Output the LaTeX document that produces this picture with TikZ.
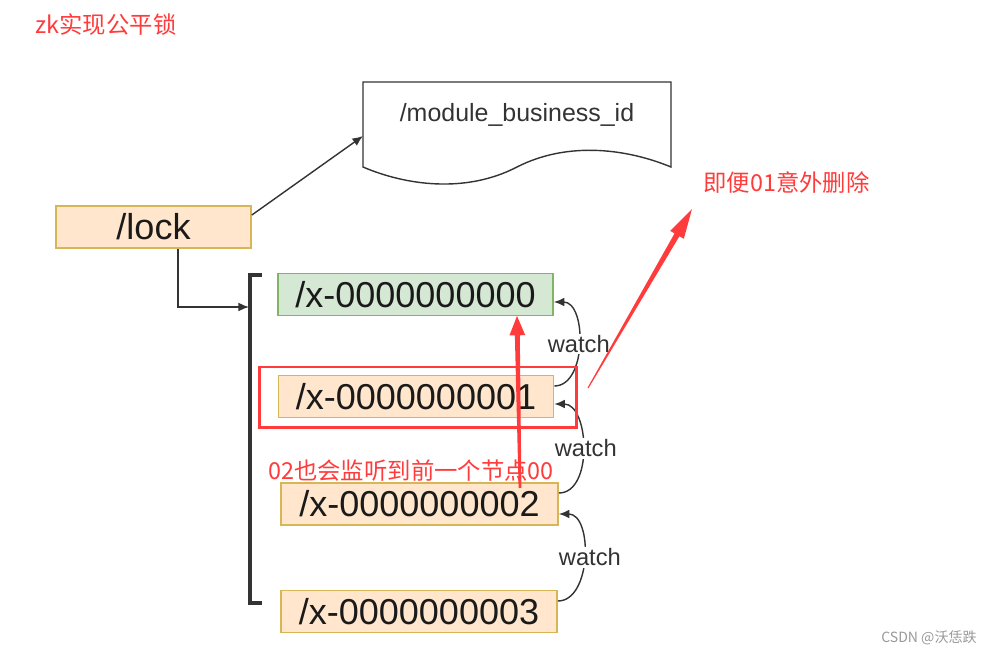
\documentclass[tikz,border=0pt]{standalone}
\usepackage{fontspec}
\setmainfont{Liberation Sans}
\newfontfamily\cjk{Noto Sans CJK SC}
\usetikzlibrary{calc,arrows.meta}
\definecolor{zkfill}{HTML}{FFE6CC}
\definecolor{zkline}{HTML}{D6B656}
\definecolor{headfill}{HTML}{D5E8D4}
\definecolor{headline}{HTML}{82B366}
\definecolor{annored}{HTML}{FF3B3B}
\definecolor{txt}{HTML}{1A1A1A}
\definecolor{graytxt}{HTML}{333333}
\newcommand{\taperarrow}[6]{%
  \path ($(#2)!#6!(#1)$) coordinate (tmpneck);
  \fill[annored] ($(#1)!#3!90:(#2)$) -- ($(tmpneck)!#4!-90:(#1)$) -- ($(tmpneck)!#5!-90:(#1)$)
    -- (#2) -- ($(tmpneck)!#5!90:(#1)$) -- ($(tmpneck)!#4!90:(#1)$) -- ($(#1)!#3!-90:(#2)$) -- cycle;}
\begin{document}
\begin{tikzpicture}[x=0.02cm,y=-0.02cm,
   zknode/.style={draw=zkline,fill=zkfill,line width=1pt,minimum height=0.84cm,inner sep=0pt,
     text=txt,font=\fontsize{20.5}{24}\selectfont},
   headnode/.style={zknode,draw=headline,fill=headfill},
   link/.style={-{Latex[length=6pt,width=5pt]},line width=0.8pt,draw=graytxt},
   watchlabel/.style={fill=white,inner sep=1pt,text=graytxt,font=\fontsize{13.5}{16}\selectfont},
   note/.style={text=annored,inner sep=0pt,font=\cjk\fontsize{13.3}{16}\selectfont}]
   \useasboundingbox (0,0) rectangle (995,658);

   \node[note] (title) at (106,25) {zk实现公平锁};

   \node[zknode,minimum width=3.9cm] (lock) at (153.5,227) {/lock};

   \draw[line width=0.8pt,draw=graytxt] (363,82) -- (671,82) -- (671,167)
      .. controls (630,150) and (570,140) .. (517,167)
      .. controls (465,194) and (405,185) .. (363,167) -- cycle;
   \node[text=graytxt,font=\fontsize{14.2}{17}\selectfont] (doc) at (517,115) {/module\_business\_id};
   \coordinate (docin) at (363,136);

   \node[headnode,minimum width=5.5cm] (x0) at (415.5,294.5) {/x-0000000000};
   \node[zknode,minimum width=5.5cm] (x1) at (416,396.5) {/x-0000000001};
   \node[zknode,minimum width=5.54cm] (x2) at (419.5,504) {/x-0000000002};
   \node[zknode,minimum width=5.52cm] (x3) at (419,611.5) {/x-0000000003};

   \draw[line width=2pt,draw=graytxt] (262,275) -- (250,275) -- (250,603) -- (262,603);
   \coordinate (brk) at (249,307);

   \draw[link] ([yshift=0.24cm]lock.east) -- (docin);
   \draw[link] ([xshift=0.49cm]lock.south) |- (brk);

   \draw[link] ([yshift=0.21cm]x1.east) to[out=0,in=0]
      node[watchlabel] {watch} ([yshift=-0.15cm]x0.east);
   \draw[link] ([yshift=0.22cm]x2.east) to[out=0,in=0]
      node[watchlabel,xshift=0.06cm] {watch} ([yshift=-0.15cm]x1.east);
   \draw[link] ([yshift=0.21cm]x3.east) to[out=0,in=0]
      node[watchlabel,xshift=0.12cm] {watch} ([yshift=-0.2cm]x2.east);

   \node[draw=annored,line width=1.7pt,minimum width=6.36cm,minimum height=1.22cm,inner sep=0pt] (hl) at (418,397.5) {};
   \node[note] (note2) at (411,471) {02也会监听到前一个节点00};
   \node[note] (note1) at (786.5,183) {即便01意外删除};

   \coordinate (upfrom) at (520,488);
   \coordinate (upto) at (517,316);
   \coordinate (diagfrom) at (588,388);
   \coordinate (diagto) at (692,209);
   \taperarrow{upfrom}{upto}{0.8pt}{1.4pt}{4.5pt}{11pt}
   \taperarrow{diagfrom}{diagto}{0.3pt}{1.6pt}{4.5pt}{17pt}

   \node[text=gray!80,font=\cjk\fontsize{8}{10}\selectfont] (mark) at (929,638) {CSDN @沃恁跌};
\end{tikzpicture}
\end{document}
